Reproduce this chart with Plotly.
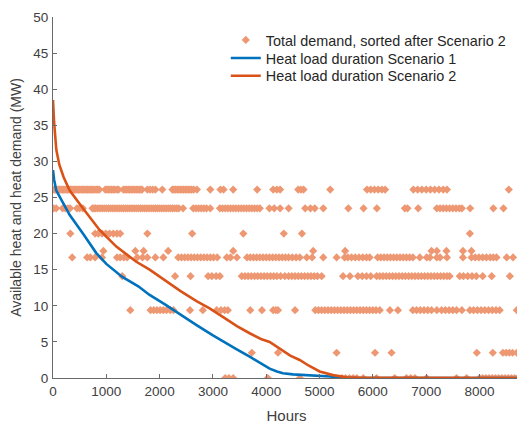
import plotly.graph_objects as go

# ---- data ----
# Scatter: total demand, sorted after Scenario 2 (hours per discrete demand level, MW)
lvl_261 = [0, 25, 50, 75, 100, 125, 150, 175, 200, 225, 250, 275, 300, 325, 350, 375, 400, 425, 450, 475,
           500, 525, 550, 575, 600, 625, 650, 675, 700, 725, 750, 780, 810, 840, 870,
           980, 1010, 1040, 1070, 1100, 1130, 1160, 1200, 1230,
           1320, 1350, 1380, 1410, 1440, 1470, 1500, 1530, 1560, 1590, 1620, 1650, 1670,
           1770, 1820, 1870, 1920, 2050,
           2240, 2270, 2300, 2330, 2360, 2390, 2420, 2450, 2480, 2510, 2540, 2570, 2600, 2640, 2700,
           2950, 3140, 3200, 3380, 3830, 4130, 4200, 4260, 4600, 4650, 4700, 5200,
           5890, 5960, 6030, 6100, 6170, 6230,
           6760, 6840, 6920, 7000, 7080, 7160, 7240, 7320, 7390, 8550]
lvl_235 = [10, 60, 180, 230, 280, 320, 450, 500, 560,
           740, 770, 800, 840, 880, 920, 960, 1000, 1040, 1080, 1120, 1160, 1200, 1240, 1280, 1320, 1360,
           1400, 1440, 1480, 1520, 1560, 1600, 1640, 1680, 1720, 1760, 1800, 1840, 1880, 1920, 1960, 2000,
           2040, 2080, 2120, 2160, 2200, 2240, 2280, 2320, 2360, 2440,
           2630, 2680, 2730, 2780, 2830, 2880, 2950,
           3130, 3180, 3230, 3280, 3330, 3380, 3430, 3480, 3530, 3580, 3630, 3680, 3730, 3780, 3830, 3880,
           4060, 4150, 4260, 4420, 4730, 4830, 4910, 5070, 5540, 5825, 6075, 6600, 6650, 6850,
           7200, 7260, 7320, 7380, 7440, 7500, 7560, 7620, 7670, 7825, 8260, 8450]
lvl_200 = [325, 790, 850, 920, 990, 1060, 1130, 1200, 1260, 1770, 2610, 3570, 4330, 4670, 7820]
lvl_176 = [945, 1545, 1700, 2160, 3380, 4880, 5480, 7100, 7200, 7380, 7690, 7850]
lvl_167 = [360, 640, 700, 790, 920, 1200, 1260, 1330, 1390, 1580, 1680, 1770, 1920, 2070,
           2350, 2410, 2470, 2530, 2590, 2650, 2710, 2770, 2830, 2890, 2950, 3010, 3080,
           3260, 3330, 3450,
           3640, 3700, 3760, 3820, 3880, 3940, 4000, 4060, 4120, 4180, 4240, 4300, 4360, 4420, 4490, 4560, 4630,
           4760, 4860, 5070, 5320,
           5470, 5530, 5600, 5670, 5740, 5810, 5880, 5940,
           6090, 6150, 6210, 6270, 6330, 6390, 6450, 6510, 6570, 6630, 6690, 6750,
           6880, 7010, 7070, 7200, 7260, 7390, 7690,
           7850, 7920, 7990, 8060, 8130, 8200, 8260, 8320, 8510, 8630]
lvl_141 = [1300, 2290, 2580, 2910, 2980, 3060, 3130,
           3540, 3600, 3660, 3720, 3780, 3840, 3900, 3960, 4020, 4080, 4140, 4200, 4270, 4350,
           4420, 4480, 4540, 4600, 4660, 4720, 4780, 4840, 4900, 4960, 5040,
           5440, 5570, 5720, 5800, 5880, 5960, 6070,
           6130, 6190, 6250, 6310, 6370, 6430, 6490, 6550, 6610, 6670, 6730, 6790, 6850, 6910, 6970,
           7030, 7090, 7150, 7210, 7270, 7330, 7390, 7440,
           7630, 7700, 7780, 7860, 7940, 8060, 8230, 8570]
lvl_094 = [1450, 1830, 1890, 1950, 2010, 2070, 2130, 2200, 2260, 2570, 2810,
           3070, 3150, 3220, 3280, 3700, 3920, 4130, 4180, 4220, 4540,
           4920, 4980, 5040, 5100, 5160, 5220, 5280, 5340, 5400, 5460, 5520, 5580, 5640, 5700, 5760,
           5820, 5880, 5940, 6000, 6060, 6130, 6320, 6470,
           6750, 6820, 6890, 6960, 7030, 7100, 7200, 7290, 7360, 7430, 7500, 7570, 7670,
           7820, 7890, 7960, 8030, 8100, 8170, 8240, 8310, 8380, 8700, 8760]
lvl_035 = [3730, 4220, 5320, 6040, 6350, 7950, 8250, 8440, 8500, 8560, 8620, 8700]
lvl_000 = [3230, 3300, 3380, 4030, 4630, 5420, 5490, 5560, 5630, 5700, 5820, 6070, 6410,
           6630, 6710, 6790, 7010, 7570, 7760,
           8000, 8060, 8120, 8180, 8240, 8300, 8360, 8420, 8480, 8540, 8600, 8660, 8720, 8760]

demand_levels = [26.1, 23.5, 20.0, 17.6, 16.7, 14.1, 9.4, 3.5, 0.0]
demand_hours = [lvl_261, lvl_235, lvl_200, lvl_176, lvl_167, lvl_141, lvl_094, lvl_035, lvl_000]

# Heat load duration curves
s1_hours = [0, 20, 60, 124, 311, 561, 812, 1000, 1300, 1600, 1812, 2100, 2400, 2700, 3000, 3200,
            3439, 3689, 3900, 4064, 4200, 4314, 4500, 4940, 5200, 5400, 5500, 8760]
s1_mw = [28.8, 27.5, 26.0, 25.1, 22.6, 20.0, 17.3, 15.8, 14.0, 12.7, 11.5, 10.2, 8.7, 7.3, 5.9, 5.0,
         4.0, 2.95, 2.0, 1.3, 0.9, 0.65, 0.5, 0.35, 0.2, 0.05, 0.0, 0.0]
s2_hours = [0, 20, 62, 120, 200, 311, 561, 874, 1188, 1563, 1812, 2100, 2400, 2700, 2938, 3200,
            3450, 3689, 3900, 4064, 4251, 4450, 4627, 4800, 5002, 5252, 5500, 5700, 8760]
s2_mw = [38.5, 35.5, 31.6, 29.5, 27.8, 26.0, 23.5, 20.5, 18.2, 16.1, 15.0, 13.5, 12.0, 10.6, 9.65, 8.4,
         7.2, 6.2, 5.4, 5.0, 4.1, 3.1, 2.5, 1.7, 0.9, 0.4, 0.1, 0.05, 0.0]

x_ticks = [0, 1000, 2000, 3000, 4000, 5000, 6000, 7000, 8000]
y_ticks = [0, 5, 10, 15, 20, 25, 30, 35, 40, 45, 50]

# ---- build scatter arrays ----
sx, sy = [], []
for lev, hrs in zip(demand_levels, demand_hours):
    sx.extend(hrs)
    sy.extend([lev] * len(hrs))

FONT = "Liberation Sans, Arial, Helvetica, sans-serif"
TXT = "#404040"
AX = "#6a6a6a"

fig = go.Figure()
fig.add_trace(go.Scatter(x=sx, y=sy, mode="markers", name="Total demand, sorted after Scenario 2",
                         marker=dict(symbol="diamond", size=6.3, color="#EE9873", line=dict(width=0)),
                         legend="legend"))
fig.add_trace(go.Scatter(x=s1_hours, y=s1_mw, mode="lines", name="Heat load duration Scenario 1",
                         line=dict(color="#0072BD", width=2.6), legend="legend2"))
fig.add_trace(go.Scatter(x=s2_hours, y=s2_mw, mode="lines", name="Heat load duration Scenario 2",
                         line=dict(color="#D95319", width=2.6), legend="legend3"))

leg_common = dict(xanchor="left", yanchor="middle", bgcolor="rgba(0,0,0,0)",
                  font=dict(size=14.4, color="#262626"), itemsizing="trace")
# the page body has an 8px margin, so the figure is 8px smaller than the window on each axis
fig.update_layout(
    width=517, height=416,
    margin=dict(l=45, r=5, t=9, b=46),
    plot_bgcolor="white", paper_bgcolor="white",
    font=dict(family=FONT, size=13.5, color=TXT),
    showlegend=True,
    legend=dict(x=0.37, y=0.936, **leg_common),
    legend2=dict(x=0.37, y=0.886, **leg_common),
    legend3=dict(x=0.37, y=0.837, **leg_common),
)
fig.update_xaxes(range=[0, 8760], tickvals=x_ticks, ticks="inside", ticklen=4, tickcolor=AX,
                 showline=True, linecolor=AX, linewidth=1, showgrid=False, zeroline=False,
                 ticklabelstandoff=1, automargin=False,
                 title=dict(text="Hours", font=dict(size=15, color=TXT), standoff=13))
fig.update_yaxes(range=[0, 50], tickvals=y_ticks, ticks="inside", ticklen=4, tickcolor=AX,
                 showline=True, linecolor=AX, linewidth=1, showgrid=False, zeroline=False,
                 ticklabelstandoff=1, automargin=False,
                 title=dict(text="Available heat and heat demand (MW)", font=dict(size=14, color=TXT), standoff=9))

fig.write_html("out.html")
